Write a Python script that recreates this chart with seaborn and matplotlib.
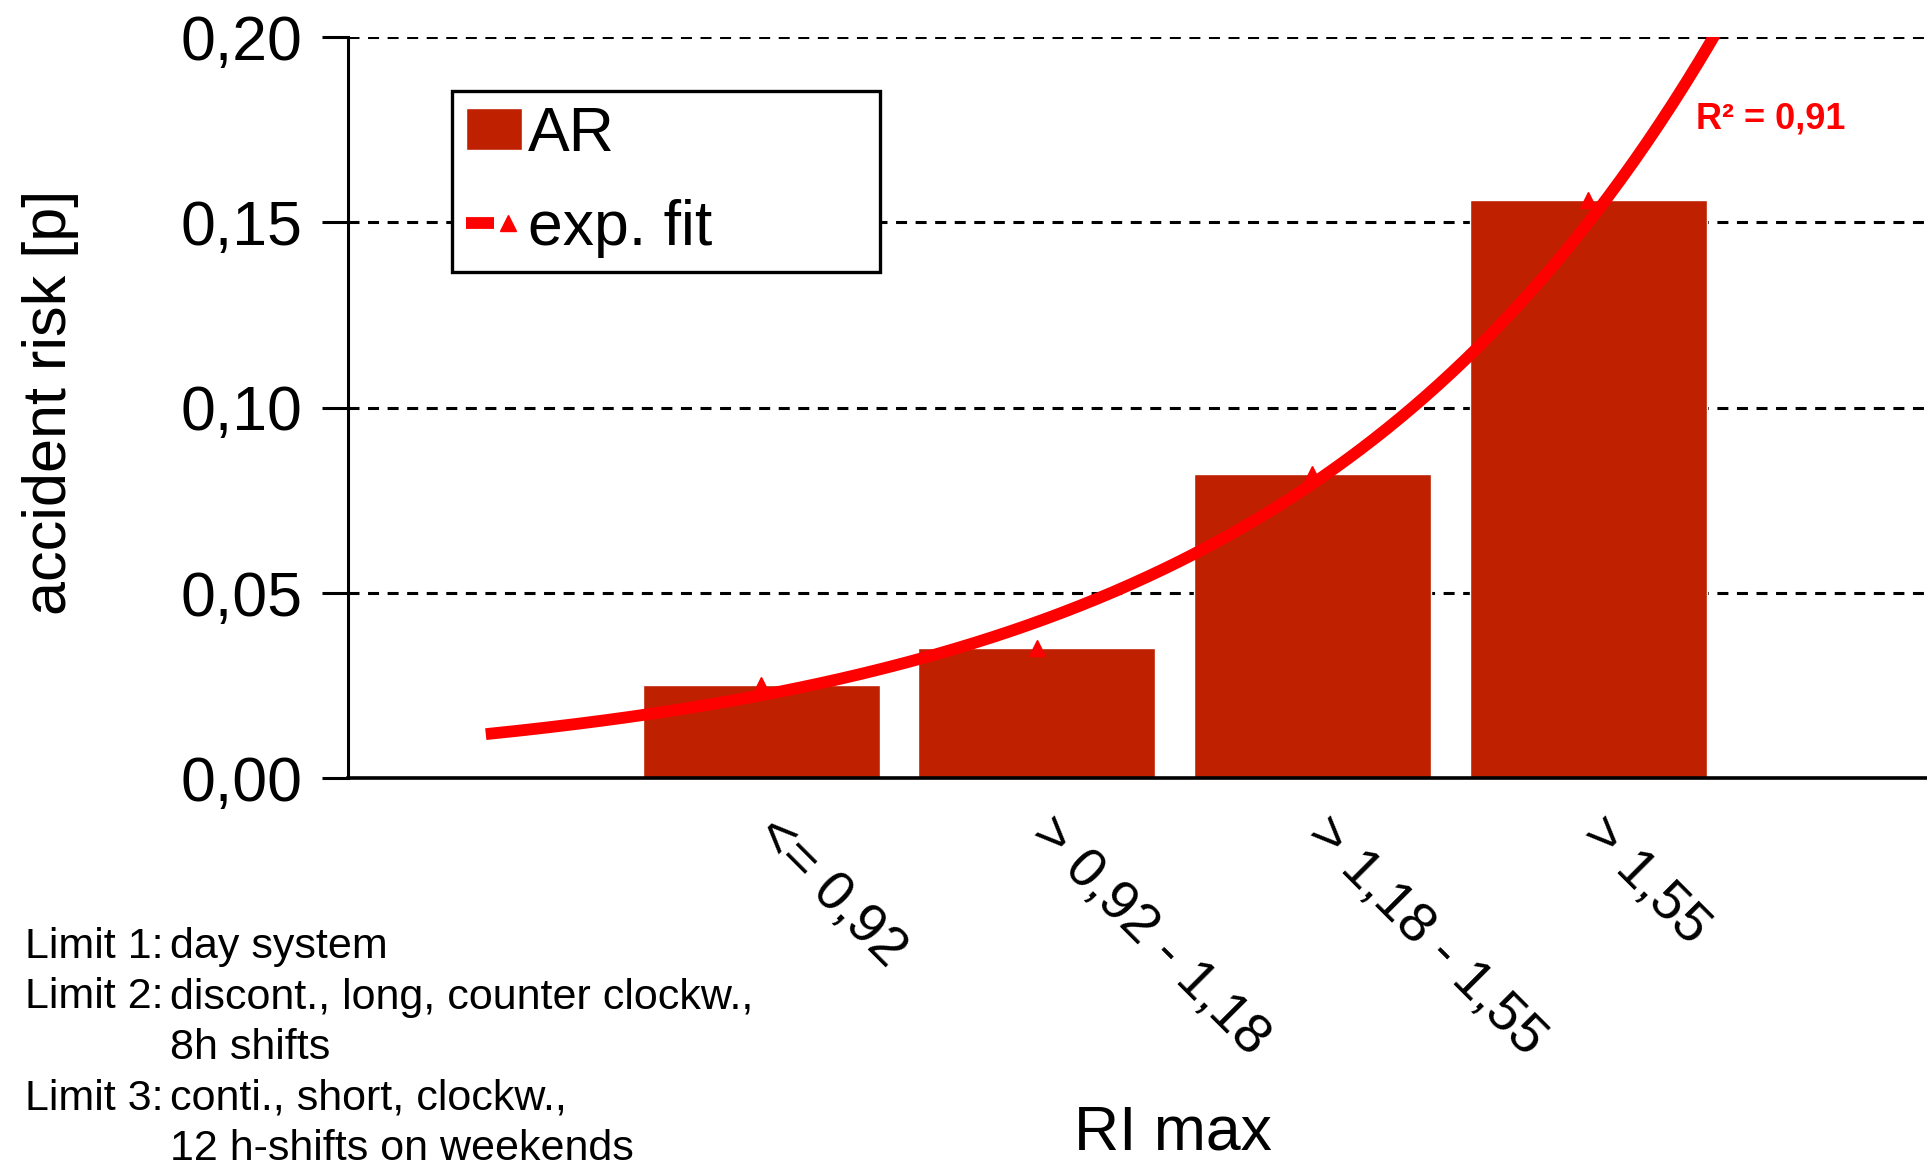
import numpy as np
import pandas as pd
import matplotlib
matplotlib.use("Agg")
import matplotlib.pyplot as plt
from matplotlib.legend_handler import HandlerTuple
from matplotlib.transforms import ScaledTranslation
from matplotlib.ticker import FuncFormatter
import seaborn as sns

# ---- data -------------------------------------------------------------
categories = ["<= 0,92", "> 0,92 - 1,18", "> 1,18 - 1,55", "> 1,55"]
ar_values = [0.025, 0.035, 0.082, 0.156]
r2_label = "R² = 0,91"
y_ticks = [0.00, 0.05, 0.10, 0.15, 0.20]
limit_names = ["Limit 1:", "Limit 2:", "", "Limit 3:", ""]
limit_texts = ["day system", "discont., long, counter clockw.,", "8h shifts",
               "conti., short, clockw.,", "12 h-shifts on weekends"]

# ---- style ------------------------------------------------------------
sns.set_theme(style="white")
plt.rcParams["font.family"] = ["Liberation Sans", "DejaVu Sans"]
for key in ("text.color", "axes.labelcolor", "xtick.color", "ytick.color"):
    plt.rcParams[key] = "black"
BAR_COLOR = "#BE2000"
FIT_COLOR = "#FF0000"

W, H = 1927, 1167
fig = plt.figure(figsize=(W / 100, H / 100), dpi=100)
ax = fig.add_axes([348 / W, 1 - 778 / H, 1 - 348 / W, (778 - 37) / H])

df = pd.DataFrame({"RI max": categories, "AR": ar_values})
sns.barplot(data=df, x="RI max", y="AR", order=categories, color=BAR_COLOR,
            saturation=1, width=0.86, ax=ax, zorder=2, label="AR")

# exponential trend fitted to the AR values
idx = np.arange(len(ar_values))
slope, intercept = np.polyfit(idx, np.log(ar_values), 1)
xs = np.linspace(-1.0, 3.7, 300)
fit_line, = ax.plot(xs, np.exp(intercept + slope * xs), color=FIT_COLOR,
                    lw=8.5, solid_capstyle="butt", zorder=4)
fit_marks, = ax.plot(idx, ar_values, linestyle="none", marker="^",
                     color=FIT_COLOR, markersize=11, zorder=5)

ax.set_xlim(-1.5, 4.23)
ax.set_ylim(0, 0.20)
ax.set_yticks(y_ticks)
ax.yaxis.set_major_formatter(FuncFormatter(lambda v, p: f"{v:.2f}".replace(".", ",")))

ax.set_axisbelow(True)
ax.yaxis.grid(True, color="black", linestyle=(0, (3.6, 2.8)), linewidth=2.2)
ax.xaxis.grid(False)
for s in ("top", "right"):
    ax.spines[s].set_visible(False)
ax.spines["left"].set_color("black")
ax.spines["left"].set_linewidth(2.2)
ax.spines["bottom"].set_color("black")
ax.spines["bottom"].set_linewidth(2.6)

ax.tick_params(axis="y", direction="out", length=18.5, width=2.2, pad=14,
               labelsize=45, left=True)
ax.tick_params(axis="x", length=0, pad=35, labelsize=40)
ax.set_xticks(idx)
ax.set_xticklabels(categories, rotation=-45, ha="left", va="center",
                   rotation_mode="anchor")
for lab in ax.get_xticklabels():
    lab.set_transform(lab.get_transform() + ScaledTranslation(0.02, 0, fig.dpi_scale_trans))

ax.set_ylabel("accident risk [p]", fontsize=44, va="center")
ax.yaxis.set_label_coords(-0.1885, 0.507)
ax.set_xlabel("")
fig.text(1173 / W, 1 - 1104 / H, "RI max", fontsize=45,
         ha="center", va="top")

ax.text(3.39, 0.178, r2_label, color=FIT_COLOR, fontsize=26, fontweight="bold",
        ha="left", va="center")

# legend
bar_handle = ax.patches[0]
leg = ax.legend([bar_handle, (fit_line, fit_marks)], ["AR", "exp. fit"],
                handler_map={tuple: HandlerTuple(ndivide=None, pad=0)},
                loc="upper left", mode="expand",
                bbox_to_anchor=(452 / W, 1 - 272 / H, 428 / W, 181 / H),
                bbox_transform=fig.transFigure, borderaxespad=0,
                fontsize=45, frameon=True, fancybox=False, shadow=False,
                handlelength=0.9, handleheight=0.67, handletextpad=0.1,
                borderpad=0.22, labelspacing=0.56)
leg.get_frame().set_edgecolor("black")
leg.get_frame().set_linewidth(2.4)
leg.get_frame().set_facecolor("white")
leg.get_frame().set_alpha(1)

# shift-system notes below the chart
base = 958
for i, (name, txt) in enumerate(zip(limit_names, limit_texts)):
    yb = 1 - (base + 50.5 * i) / H
    if name:
        fig.text(25 / W, yb, name, fontsize=31, ha="left", va="baseline")
    fig.text(170 / W, yb, txt, fontsize=31, ha="left", va="baseline")

fig.savefig("out.png", dpi=100, facecolor="white")
